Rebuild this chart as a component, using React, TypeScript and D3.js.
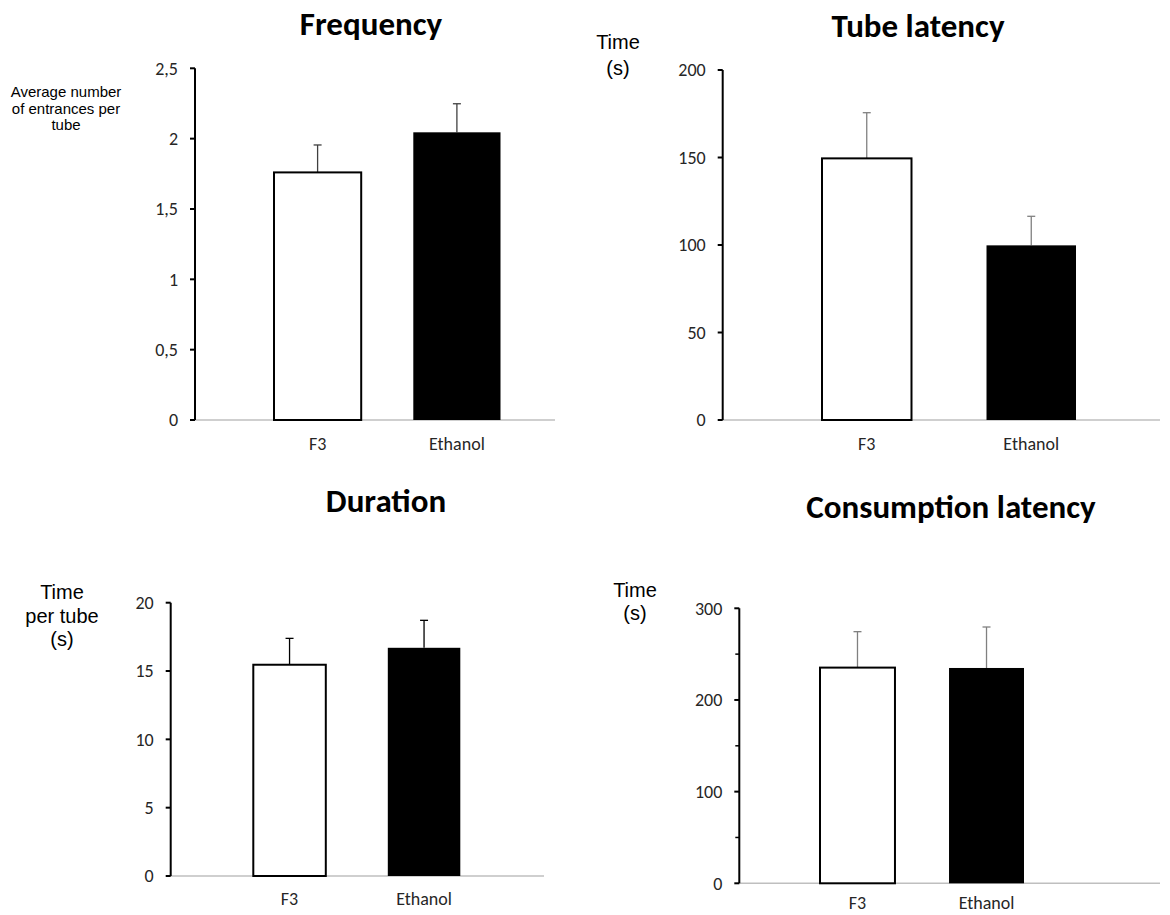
import React from "react";
import * as d3 from "d3";

const categories = ["F3", "Ethanol"];

const frequencyMeans = [1.76, 2.045];
const frequencyErrors = [0.195, 0.203];
const frequencyTicks = [0, 0.5, 1, 1.5, 2, 2.5];

const tubeLatencyMeans = [149.5, 99.8];
const tubeLatencyErrors = [26.1, 16.6];
const tubeLatencyTicks = [0, 50, 100, 150, 200];

const durationMeans = [15.46, 16.7];
const durationErrors = [1.93, 2.01];
const durationTicks = [0, 5, 10, 15, 20];

const consumptionMeans = [235.3, 234.9];
const consumptionErrors = [39.2, 44.7];
const consumptionTicks = [0, 100, 200, 300];
const consumptionMinorTicks = [50, 150, 250];

const TICK_FONT = "Carlito, Calibri, Lato, sans-serif";
const TITLE_FONT = "Carlito, Calibri, Lato, sans-serif";
const LABEL_FONT = "'Liberation Sans', Arial, sans-serif";

type PanelProps = {
  title: string;
  titleX: number;
  titleY: number;
  means: number[];
  errors: number[];
  ticks: number[];
  minorTicks?: number[];
  fmt: (v: number) => string;
  axisX: number;
  yTop: number;
  yBottom: number;
  xEnd: number;
  bandRange: [number, number];
  padInner: number;
  catLabelY: number;
  errColor: string;
  yLabel: string[];
  yLabelX: number;
  yLabelY: number;
  yLabelSize: number;
  yLabelGap: number;
};

function Panel(p: PanelProps) {
  const yMax = p.ticks[p.ticks.length - 1];
  const y = d3.scaleLinear().domain([0, yMax]).range([p.yBottom, p.yTop]);
  const x = d3
    .scaleBand<string>()
    .domain(categories)
    .range(p.bandRange)
    .paddingInner(p.padInner)
    .paddingOuter(0);
  const bw = x.bandwidth();
  const fills = ["#ffffff", "#000000"];
  return (
    <g>
      <text
        x={p.titleX}
        y={p.titleY}
        textAnchor="middle"
        fontFamily={TITLE_FONT}
        fontWeight="bold"
        fontSize={33}
        fill="#000"
      >
        {p.title}
      </text>
      {p.yLabel.map((line, i) => (
        <text
          key={i}
          x={p.yLabelX}
          y={p.yLabelY + i * p.yLabelGap}
          textAnchor="middle"
          fontFamily={LABEL_FONT}
          fontSize={p.yLabelSize}
          fill="#000"
        >
          {line}
        </text>
      ))}
      <line
        x1={p.axisX}
        x2={p.xEnd}
        y1={y(0)}
        y2={y(0)}
        stroke="#bfbfbf"
        strokeWidth={1.5}
      />
      {categories.map((c, i) => {
        const x0 = x(c)!;
        const cx = x0 + bw / 2;
        const top = y(p.means[i]);
        const errTop = y(p.means[i] + p.errors[i]);
        return (
          <g key={c}>
            <line
              x1={cx}
              x2={cx}
              y1={top}
              y2={errTop}
              stroke={p.errColor}
              strokeWidth={1.3}
            />
            <line
              x1={cx - 4}
              x2={cx + 4}
              y1={errTop}
              y2={errTop}
              stroke={p.errColor}
              strokeWidth={1.3}
            />
            <rect
              x={x0}
              y={top}
              width={bw}
              height={y(0) - top}
              fill={fills[i]}
              stroke="#000"
              strokeWidth={i === 0 ? 2 : 0}
            />
            <text
              x={cx}
              y={p.catLabelY}
              textAnchor="middle"
              fontFamily={TICK_FONT}
              fontSize={18}
              fill="#262626"
            >
              {c}
            </text>
          </g>
        );
      })}
      <line
        x1={p.axisX}
        x2={p.axisX}
        y1={y(yMax)}
        y2={y(0)}
        stroke="#000"
        strokeWidth={2}
      />
      {p.ticks.map((t) => (
        <g key={t}>
          <line
            x1={p.axisX - 5}
            x2={p.axisX}
            y1={y(t)}
            y2={y(t)}
            stroke="#000"
            strokeWidth={2}
          />
          <text
            x={p.axisX - 17}
            y={y(t)}
            dy="0.35em"
            textAnchor="end"
            fontFamily={TICK_FONT}
            fontSize={18}
            fill="#262626"
          >
            {p.fmt(t)}
          </text>
        </g>
      ))}
      {(p.minorTicks || []).map((t) => (
        <line
          key={"m" + t}
          x1={p.axisX - 4}
          x2={p.axisX}
          y1={y(t)}
          y2={y(t)}
          stroke="#000"
          strokeWidth={1.5}
        />
      ))}
    </g>
  );
}

const commaFmt = (v: number) => String(v).replace(".", ",");
const intFmt = (v: number) => String(v);

export default function App() {
  return (
    <svg
      width={1170}
      height={915}
      style={{ position: "absolute", left: 0, top: 0, background: "#fff" }}
    >
      <rect width={1170} height={915} fill="#fff" />
      <Panel
        title="Frequency"
        titleX={371}
        titleY={35}
        means={frequencyMeans}
        errors={frequencyErrors}
        ticks={frequencyTicks}
        fmt={commaFmt}
        axisX={195}
        yTop={68.3}
        yBottom={420}
        xEnd={555}
        bandRange={[274, 500.5]}
        padInner={0.374}
        catLabelY={450}
        errColor="#404040"
        yLabel={["Average number", "of entrances per", "tube"]}
        yLabelX={66}
        yLabelY={97}
        yLabelSize={15}
        yLabelGap={16.5}
      />
      <Panel
        title="Tube latency"
        titleX={918}
        titleY={37}
        means={tubeLatencyMeans}
        errors={tubeLatencyErrors}
        ticks={tubeLatencyTicks}
        fmt={intFmt}
        axisX={722.7}
        yTop={70}
        yBottom={420}
        xEnd={1160}
        bandRange={[822, 1076]}
        padInner={0.456}
        catLabelY={450}
        errColor="#808080"
        yLabel={["Time", "(s)"]}
        yLabelX={618}
        yLabelY={49}
        yLabelSize={20}
        yLabelGap={26}
      />
      <Panel
        title="Duration"
        titleX={386}
        titleY={512}
        means={durationMeans}
        errors={durationErrors}
        ticks={durationTicks}
        fmt={intFmt}
        axisX={170.7}
        yTop={602.7}
        yBottom={876}
        xEnd={544}
        bandRange={[253.3, 460.3]}
        padInner={0.461}
        catLabelY={905}
        errColor="#000000"
        yLabel={["Time", "per tube", "(s)"]}
        yLabelX={62}
        yLabelY={599}
        yLabelSize={20}
        yLabelGap={23.5}
      />
      <Panel
        title="Consumption latency"
        titleX={951}
        titleY={518}
        means={consumptionMeans}
        errors={consumptionErrors}
        ticks={consumptionTicks}
        minorTicks={consumptionMinorTicks}
        fmt={intFmt}
        axisX={739.3}
        yTop={608.3}
        yBottom={883.3}
        xEnd={1160}
        bandRange={[820, 1024]}
        padInner={0.419}
        catLabelY={909}
        errColor="#808080"
        yLabel={["Time", "(s)"]}
        yLabelX={635}
        yLabelY={597}
        yLabelSize={20}
        yLabelGap={23}
      />
    </svg>
  );
}
